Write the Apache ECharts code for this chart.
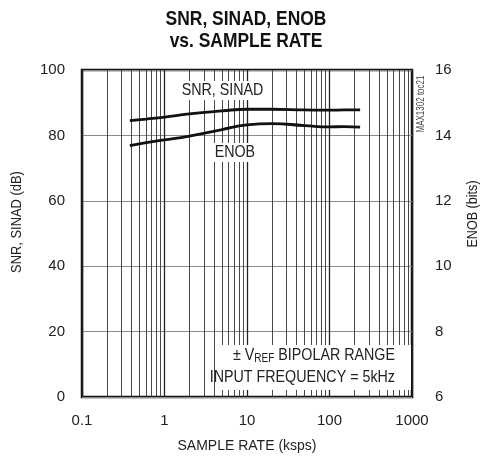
<!DOCTYPE html>
<html>
<head>
<meta charset="utf-8">
<script src="https://cdn.jsdelivr.net/npm/echarts@6/dist/echarts.min.js"></script>
<style>
html,body{margin:0;padding:0;background:#fff;}
#c{width:482px;height:459px;}
</style>
</head>
<body>
<div id="c"></div>
<script>
const sampleRate = [0.38, 0.6, 1, 2, 5, 10, 20, 50, 100, 150, 235];
const snrSinad = [84.5, 85.0, 85.6, 86.6, 87.5, 88.0, 88.0, 87.8, 87.7, 87.8, 87.8];
const enobBits = [13.69, 13.78, 13.86, 13.98, 14.18, 14.32, 14.36, 14.30, 14.26, 14.27, 14.25];
const leftTicks = [0, 20, 40, 60, 80, 100];
const rightTicks = [6, 8, 10, 12, 14, 16];
const xTicks = [0.1, 1, 10, 100, 1000];
const minorX = [];
[0.1, 1, 10, 100].forEach(function (d) { for (let k = 2; k <= 9; k++) minorX.push(+(d * k).toPrecision(3)); });

const FONT = '"Liberation Sans", Arial, sans-serif';
const SX = 0.84;
const chart = echarts.init(document.getElementById('c'), null, { renderer: 'canvas' });

const option = {
  animation: false,
  backgroundColor: '#fff',
  textStyle: { fontFamily: FONT },
  grid: {
    left: 82, right: 70, top: 70, bottom: 62,
    show: true, borderColor: '#111', borderWidth: 2.5, backgroundColor: 'transparent'
  },
  xAxis: {
    type: 'log', logBase: 10, min: 0.1, max: 1000,
    name: 'SAMPLE RATE (ksps)', nameLocation: 'middle', nameGap: 42,
    nameTextStyle: { fontFamily: FONT, fontSize: 14, color: '#222' },
    axisLine: { show: false }, axisTick: { show: false },
    axisLabel: { fontFamily: FONT, fontSize: 15, color: '#222', margin: 16,
      formatter: function (v) { return xTicks.indexOf(+v) >= 0 ? String(+v) : ''; } },
    splitLine: { show: true, lineStyle: { color: '#222', width: 1.3 } }
  },
  yAxis: [{
    type: 'value', min: leftTicks[0], max: leftTicks[leftTicks.length - 1], interval: 20,
    axisLine: { show: false }, axisTick: { show: false },
    axisLabel: { fontFamily: FONT, fontSize: 15, color: '#222', margin: 17 },
    splitLine: { show: true, lineStyle: { color: '#8a8a8a', width: 1.2 } }
  }, {
    type: 'value', min: rightTicks[0], max: rightTicks[rightTicks.length - 1], interval: 2,
    axisLine: { show: false }, axisTick: { show: false },
    axisLabel: { fontFamily: FONT, fontSize: 15, color: '#222', margin: 23 },
    splitLine: { show: false }
  }],
  series: [{
    name: 'SNR, SINAD', type: 'line', smooth: true, showSymbol: false, yAxisIndex: 0,
    data: sampleRate.map(function (x, i) { return [x, snrSinad[i]]; }),
    lineStyle: { color: '#111', width: 2.8 }, z: 5,
    markLine: {
      silent: true, symbol: 'none', label: { show: false }, z: 1,
      lineStyle: { color: '#333', width: 0.9, type: 'solid' },
      data: minorX.map(function (v) { return { xAxis: v }; })
    }
  }, {
    name: 'ENOB', type: 'line', smooth: true, showSymbol: false, yAxisIndex: 1,
    data: sampleRate.map(function (x, i) { return [x, enobBits[i]]; }),
    lineStyle: { color: '#111', width: 2.8 }, z: 5
  }],
  graphic: [
    { type: 'text', x: 246, y: 19, scaleX: 0.83, z: 11,
      style: { text: 'SNR, SINAD, ENOB', align: 'center', verticalAlign: 'middle', font: 'bold 21px ' + FONT, fill: '#111' } },
    { type: 'text', x: 246, y: 41, scaleX: 0.83, z: 11,
      style: { text: 'vs. SAMPLE RATE', align: 'center', verticalAlign: 'middle', font: 'bold 21px ' + FONT, fill: '#111' } },
    { type: 'text', x: 180, y: 81, scaleX: SX, z: 10,
      style: { text: 'SNR, SINAD', font: '17px ' + FONT, fill: '#222', backgroundColor: '#fff', padding: [1, 2] } },
    { type: 'text', x: 213, y: 143, scaleX: SX, z: 10,
      style: { text: 'ENOB', font: '17px ' + FONT, fill: '#222', backgroundColor: '#fff', padding: [1, 2] } },
    { type: 'rect', shape: { x: 218, y: 345, width: 193, height: 45 }, z: 10,
      style: { fill: '#fff' } },
    { type: 'text', x: 395, y: 346, scaleX: SX, z: 11,
      style: { text: '{a|± V}{s|REF}{a| BIPOLAR RANGE}', align: 'right',
        rich: { a: { fontFamily: FONT, fontSize: 17, fill: '#222' },
                s: { fontFamily: FONT, fontSize: 12, fill: '#222', padding: [7, 0, 0, 0] } } } },
    { type: 'text', x: 395, y: 369, scaleX: SX, z: 11,
      style: { text: 'INPUT FREQUENCY = 5kHz', align: 'right', font: '17px ' + FONT, fill: '#222' } },
    { type: 'text', x: 421, y: 104, rotation: Math.PI / 2, scaleX: 0.8, z: 11,
      style: { text: 'MAX1302 toc21', align: 'center', verticalAlign: 'middle', font: '10px ' + FONT, fill: '#444' } },
    { type: 'text', x: 17, y: 222, rotation: Math.PI / 2, scaleX: 0.86, z: 11,
      style: { text: 'SNR, SINAD (dB)', align: 'center', verticalAlign: 'middle', font: '15px ' + FONT, fill: '#222' } },
    { type: 'text', x: 473, y: 214, rotation: Math.PI / 2, scaleX: 0.84, z: 11,
      style: { text: 'ENOB (bits)', align: 'center', verticalAlign: 'middle', font: '15px ' + FONT, fill: '#222' } }
  ]
};
chart.setOption(option);
</script>
</body>
</html>
